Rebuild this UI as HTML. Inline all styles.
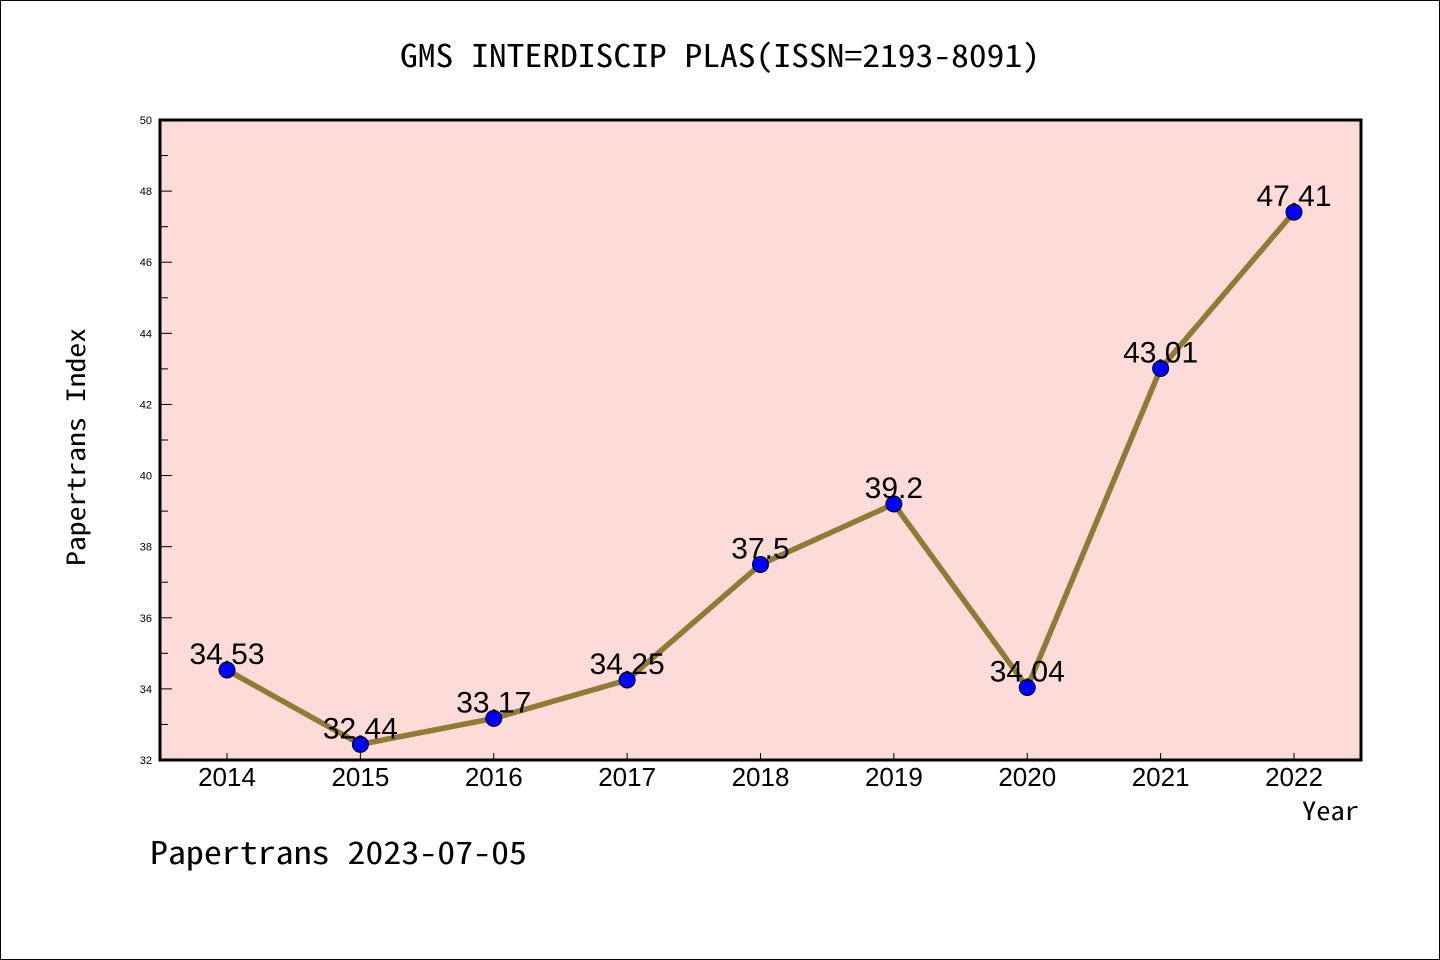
<!DOCTYPE html>
<html><head><meta charset="utf-8"><style>
html,body{margin:0;padding:0;background:#fff}
svg{display:block}
text{font-family:"Liberation Sans",sans-serif;fill:#000}
.mono{font-family:"WenQuanYi Zen Hei Mono","Noto Sans Mono CJK SC","Liberation Mono",monospace}
</style></head><body>
<svg width="1440" height="960">
<rect x="0.5" y="0.5" width="1439" height="959" fill="#fff" stroke="#000"/>
<text class="mono" x="720" y="67" font-size="31" text-anchor="middle" textLength="640" lengthAdjust="spacingAndGlyphs">GMS INTERDISCIP PLAS(ISSN=2193-8091)</text>
<rect x="160" y="120" width="1201" height="640" fill="#fddbd8"/>
<g id="ticks"></g>
<g id="series"></g>
<rect x="160" y="120" width="1201" height="640" fill="none" stroke="#000" stroke-width="3"/>
<text class="mono" transform="translate(85,447) rotate(-90)" font-size="25" text-anchor="middle" textLength="238" lengthAdjust="spacingAndGlyphs">Papertrans Index</text>
<text class="mono" x="1359" y="820" font-size="25" text-anchor="end" textLength="57" lengthAdjust="spacingAndGlyphs">Year</text>
<text class="mono" x="150" y="864" font-size="31" textLength="377" lengthAdjust="spacingAndGlyphs">Papertrans 2023-07-05</text>
</svg>
<script>
const years=[2014,2015,2016,2017,2018,2019,2020,2021,2022];
const values=[34.53,32.44,33.17,34.25,37.5,39.2,34.04,43.01,47.41];
const labels=["34.53","32.44","33.17","34.25","37.5","39.2","34.04","43.01","47.41"];
const yTicks=[32,34,36,38,40,42,44,46,48,50];
const NS="http://www.w3.org/2000/svg";
const x=i=>227+i*133.375;
const y=v=>760-(v-32)*640/18;
function mk(tag,attrs,parent){const e=document.createElementNS(NS,tag);for(const k in attrs)e.setAttribute(k,attrs[k]);parent.appendChild(e);return e;}
const tg=document.getElementById('ticks'),sg=document.getElementById('series');
yTicks.forEach(v=>{
 const l=mk('line',{x1:160,x2:172,y1:y(v),y2:y(v),stroke:'#000','stroke-width':1},tg);
 
 
 const t=mk('text',{x:152,y:y(v)+4,'font-size':11,'text-anchor':'end'},tg);t.textContent=v;
 
 
 if(v<50){const m=mk('line',{x1:160,x2:168,y1:y(v+1),y2:y(v+1),stroke:'#000','stroke-width':1},tg);
 
 }
});
years.forEach((yr,i)=>{
 const l=mk('line',{x1:x(i),x2:x(i),y1:760,y2:753,stroke:'#000','stroke-width':1},tg);
 
 
 const t=mk('text',{x:x(i),y:786,'font-size':26,'text-anchor':'middle'},tg);t.textContent=yr;
 
 
});
const pl=mk('polyline',{points:values.map((v,i)=>x(i)+','+y(v)).join(' '),fill:'none',stroke:'#8f7a36','stroke-width':5.5},sg);


values.forEach((v,i)=>{
 const c=mk('circle',{cx:x(i),cy:y(v),r:8,fill:'#0000ff',stroke:'#000','stroke-width':1},sg);
 
 
 const t=mk('text',{x:x(i),y:y(v)-6,'font-size':30,'text-anchor':'middle'},sg);t.textContent=labels[i];
 
 
});
</script>
</body></html>
